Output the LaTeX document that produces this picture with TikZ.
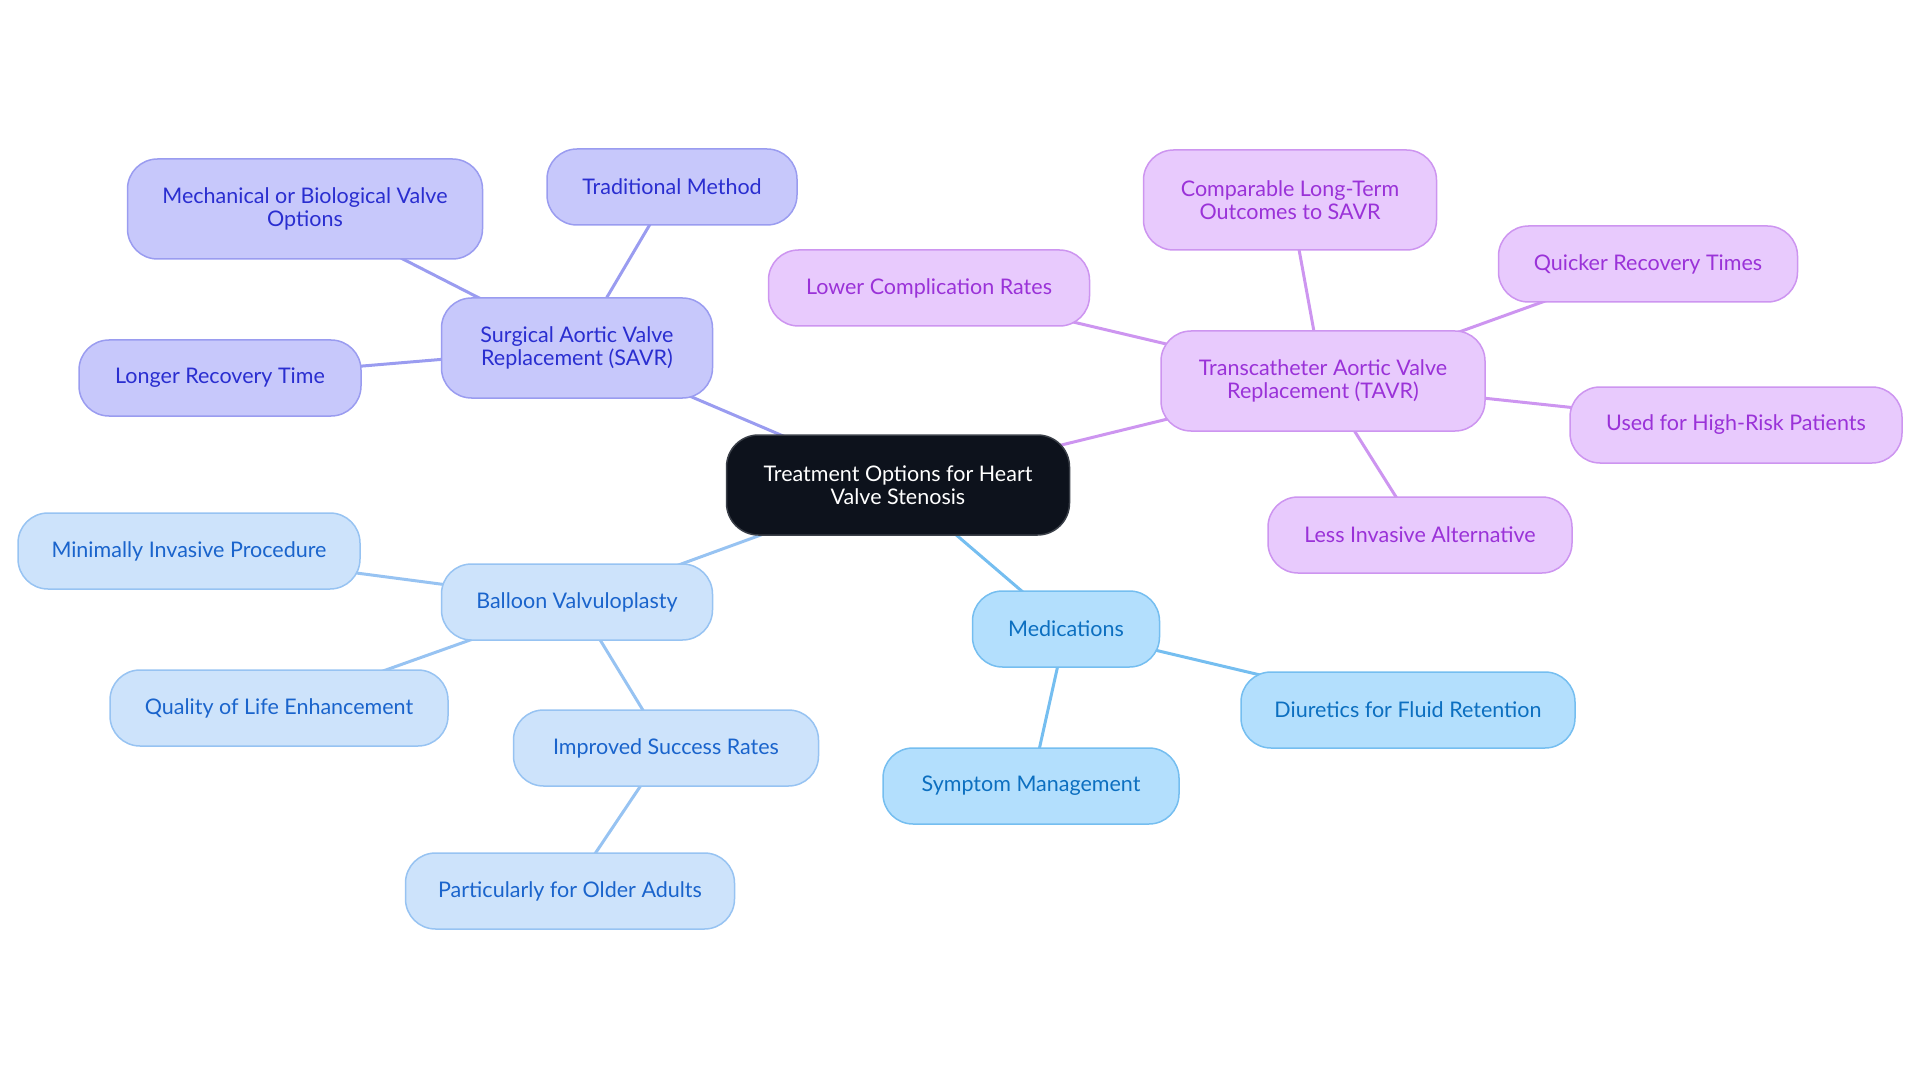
\documentclass[tikz,border=0pt]{standalone}
\usepackage{fontspec}
\setmainfont{Lato}
\usetikzlibrary{backgrounds}
\definecolor{rootfill}{HTML}{0D121C}
\definecolor{rootdraw}{HTML}{3A3F48}
\definecolor{sfill}{HTML}{C7C8FB}
\definecolor{sdraw}{HTML}{9A9CF0}
\definecolor{stext}{HTML}{2A2ED0}
\definecolor{tfill}{HTML}{E8CAFD}
\definecolor{tdraw}{HTML}{CD95F0}
\definecolor{ttext}{HTML}{9A32D8}
\definecolor{bfill}{HTML}{CDE3FB}
\definecolor{bdraw}{HTML}{97C3F2}
\definecolor{btext}{HTML}{1A64CC}
\definecolor{mfill}{HTML}{B3DFFD}
\definecolor{mdraw}{HTML}{75BEF0}
\definecolor{mtext}{HTML}{0C6FC0}
\begin{document}
\begin{tikzpicture}[x=1pt,y=-1pt,
  box/.style={rounded corners=30pt, line width=1.5pt, align=center, inner sep=0pt,
    minimum height=76pt, font=\fontsize{21.5}{23.5}\selectfont},
  rootbox/.style={box, fill=rootfill, draw=rootdraw, text=white, minimum height=100pt, rounded corners=32pt},
  sbox/.style={box, fill=sfill, draw=sdraw, text=stext},
  tbox/.style={box, fill=tfill, draw=tdraw, text=ttext},
  bbox/.style={box, fill=bfill, draw=bdraw, text=btext},
  mbox/.style={box, fill=mfill, draw=mdraw, text=mtext},
  sline/.style={draw=sdraw, line width=3pt},
  tline/.style={draw=tdraw, line width=3pt},
  bline/.style={draw=bdraw, line width=3pt},
  mline/.style={draw=mdraw, line width=3pt}
]
\useasboundingbox (0,0) rectangle (1920,1083);

\node[rootbox, minimum width=343pt] (root) at (898,485) {Treatment Options for Heart\\Valve Stenosis};

\node[sbox, minimum width=271pt, minimum height=100pt] (savr) at (577,348) {Surgical Aortic Valve\\Replacement (SAVR)};
\node[sbox, minimum width=355pt, minimum height=100pt] (mech) at (305,209) {Mechanical or Biological Valve\\Options};
\node[sbox, minimum width=250pt] (trad) at (672,187) {Traditional Method};
\node[sbox, minimum width=282pt] (longer) at (220,378) {Longer Recovery Time};

\node[tbox, minimum width=324pt, minimum height=100pt] (tavr) at (1323,381) {Transcatheter Aortic Valve\\Replacement (TAVR)};
\node[tbox, minimum width=293pt, minimum height=100pt] (comp) at (1290,200) {Comparable Long-Term\\Outcomes to SAVR};
\node[tbox, minimum width=321pt] (lower) at (929,288) {Lower Complication Rates};
\node[tbox, minimum width=299pt] (quick) at (1648,264) {Quicker Recovery Times};
\node[tbox, minimum width=332pt] (used) at (1736,425) {Used for High-Risk Patients};
\node[tbox, minimum width=304pt] (less) at (1420,535) {Less Invasive Alternative};

\node[bbox, minimum width=271pt] (balloon) at (577,602) {Balloon Valvuloplasty};
\node[bbox, minimum width=342pt] (mini) at (189,551) {Minimally Invasive Procedure};
\node[bbox, minimum width=338pt] (qual) at (279,708) {Quality of Life Enhancement};
\node[bbox, minimum width=305pt] (impr) at (666,748) {Improved Success Rates};
\node[bbox, minimum width=329pt] (part) at (570,891) {Particularly for Older Adults};

\node[mbox, minimum width=187pt] (med) at (1066,629) {Medications};
\node[mbox, minimum width=334pt] (diur) at (1408,710) {Diuretics for Fluid Retention};
\node[mbox, minimum width=296pt] (symp) at (1031,786) {Symptom Management};

\begin{scope}[on background layer]
\draw[sline] (root.center) -- (savr.center);
\draw[sline] (savr.center) -- (mech.center);
\draw[sline] (savr.center) -- (trad.center);
\draw[sline] (savr.center) -- (longer.center);
\draw[tline] (root.center) -- (tavr.center);
\draw[tline] (tavr.center) -- (comp.center);
\draw[tline] (tavr.center) -- (lower.center);
\draw[tline] (tavr.center) -- (quick.center);
\draw[tline] (tavr.center) -- (used.center);
\draw[tline] (tavr.center) -- (less.center);
\draw[bline] (root.center) -- (balloon.center);
\draw[bline] (balloon.center) -- (mini.center);
\draw[bline] (balloon.center) -- (qual.center);
\draw[bline] (balloon.center) -- (impr.center);
\draw[bline] (impr.center) -- (part.center);
\draw[mline] (root.center) -- (med.center);
\draw[mline] (med.center) -- (diur.center);
\draw[mline] (med.center) -- (symp.center);
\end{scope}
\end{tikzpicture}
\end{document}
